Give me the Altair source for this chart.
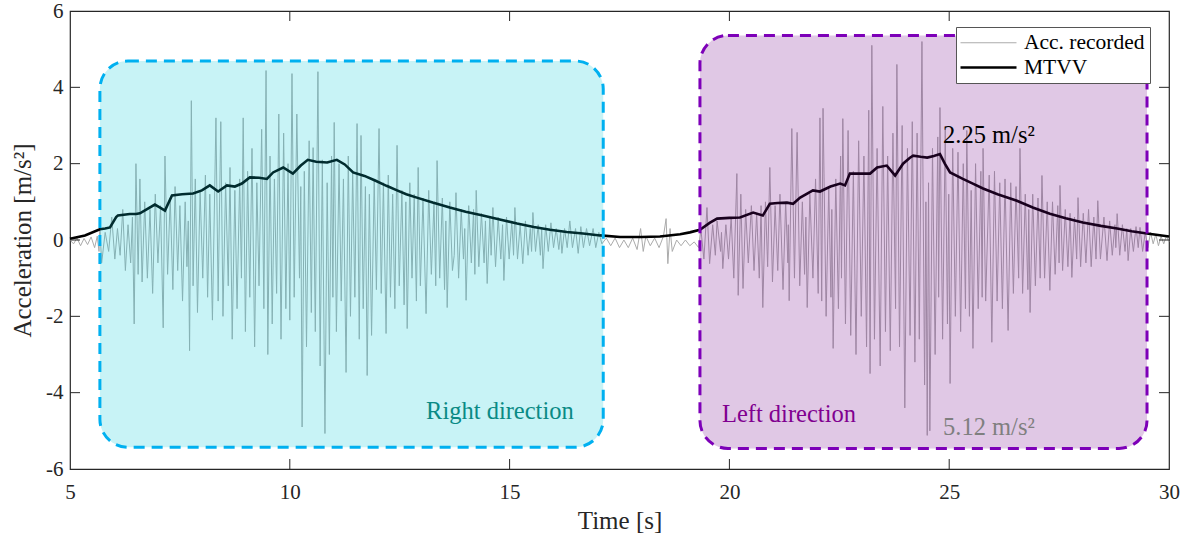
import altair as alt
import pandas as pd

# ---------------- data ----------------
acc_start = [(5.00, 0.00), (5.08, -0.10), (5.16, 0.05), (5.24, -0.15), (5.32, 0.04),
             (5.40, -0.12), (5.48, 0.08), (5.56, -0.20), (5.62, 0.10), (5.66, -0.30)]

acc_right = [(5.68, 0.3), (5.72, -0.6), (5.80, 0.2), (5.88, -0.3), (5.95, 0.6), (6.02, -0.5),
             (6.08, 0.3), (6.14, -0.4), (6.20, 0.8), (6.26, -0.8), (6.32, 0.4), (6.38, -0.6),
             (6.42, 0.6), (6.46, -2.2), (6.50, 2.0), (6.55, -0.9), (6.59, 1.6), (6.64, -1.1),
             (6.70, 1.0), (6.76, -1.0), (6.82, 0.8), (6.88, -1.4), (6.94, 1.2), (7.00, -0.6),
             (7.06, 0.9), (7.12, -2.3), (7.16, 2.2), (7.22, -0.9), (7.28, 1.1), (7.34, -1.3),
             (7.39, 1.4), (7.45, -0.8), (7.50, 0.9), (7.56, -1.6), (7.62, 1.0), (7.66, -0.7),
             (7.69, 0.5), (7.72, -2.9), (7.76, 3.65), (7.80, -1.2), (7.85, 1.6), (7.90, -1.9),
             (7.96, 1.3), (8.02, -1.0), (8.08, 1.7), (8.13, -1.5), (8.18, 1.2), (8.24, -2.1),
             (8.32, 3.2), (8.37, -1.6), (8.43, 3.1), (8.48, -2.0), (8.54, 1.5), (8.60, -1.2),
             (8.64, 1.9), (8.69, -2.6), (8.75, 1.3), (8.80, -1.8), (8.86, 1.6), (8.90, -1.0),
             (8.94, 3.2), (8.99, -2.4), (9.04, 1.8), (9.09, -1.5), (9.14, 2.4), (9.20, -2.8),
             (9.25, 1.5), (9.30, -1.2), (9.36, 2.9), (9.41, -1.8), (9.46, 4.44), (9.50, -3.0),
             (9.55, 2.2), (9.60, -2.2), (9.65, 1.6), (9.70, -1.4), (9.75, 3.3), (9.80, -2.6),
             (9.86, 2.8), (9.91, -1.8), (9.96, 2.0), (10.00, -2.1), (10.05, 4.36), (10.10, -1.5),
             (10.16, 3.3), (10.22, -1.0), (10.25, 1.4), (10.28, -4.9), (10.33, 1.8), (10.38, -2.8),
             (10.44, 2.6), (10.49, -1.9), (10.53, 2.42), (10.58, -2.4), (10.64, 4.41), (10.69, -3.3),
             (10.74, 2.1), (10.80, -5.07), (10.85, 1.5), (10.90, -3.0), (10.95, 2.2), (10.98, -1.5),
             (11.01, 3.08), (11.06, -2.4), (11.12, 2.0), (11.17, -1.6), (11.22, 1.6), (11.28, -3.47),
             (11.33, 2.2), (11.38, -2.0), (11.43, 1.8), (11.48, -1.5), (11.53, 3.05), (11.58, -2.6),
             (11.62, 2.74), (11.67, -1.8), (11.72, 1.4), (11.76, -3.55), (11.81, 1.2), (11.86, -2.5),
             (11.92, 1.6), (11.97, -1.3), (12.03, 2.92), (12.08, -1.4), (12.13, 1.5), (12.19, -2.45),
             (12.24, 1.7), (12.29, -1.5), (12.34, 1.2), (12.39, -1.8), (12.44, 2.48), (12.49, -1.2),
             (12.55, 1.3), (12.60, -1.7), (12.64, 1.0), (12.67, -2.32), (12.73, 1.5), (12.78, -1.0),
             (12.83, 1.2), (12.88, -1.6), (12.92, 1.9), (12.97, -1.2), (13.03, 1.1), (13.10, -1.93),
             (13.16, 1.3), (13.22, -0.9), (13.28, 1.0), (13.32, -1.2), (13.35, 2.08), (13.41, -1.0),
             (13.47, 1.1), (13.52, -1.3), (13.55, 0.5), (13.58, -1.77), (13.64, 1.0), (13.70, -0.8),
             (13.74, -0.4), (13.78, 1.24), (13.84, -1.0), (13.90, 0.8), (13.95, -0.5), (13.98, 0.3),
             (14.01, -1.58), (14.07, 0.9), (14.13, -0.6), (14.18, 0.8), (14.21, -0.9), (14.24, 1.3),
             (14.30, -0.7), (14.36, 0.7), (14.42, -0.6), (14.45, 0.5), (14.49, -1.14), (14.55, 0.6),
             (14.58, -0.4), (14.62, 0.85), (14.68, -0.7), (14.74, 0.6), (14.80, -0.5), (14.84, 0.4),
             (14.87, -1.06), (14.93, 0.6), (14.99, -0.5), (15.05, 0.5), (15.09, -0.4), (15.12, 0.85),
             (15.18, -0.5), (15.24, 0.4), (15.30, -0.62), (15.36, 0.5), (15.42, -0.4), (15.47, 0.3),
             (15.50, -0.3), (15.53, 0.72), (15.59, -0.3), (15.65, 0.4), (15.70, -0.4), (15.73, 0.3),
             (15.76, -0.75), (15.82, 0.4), (15.88, -0.3), (15.94, 0.45), (16.00, -0.2), (16.06, 0.3),
             (16.12, -0.25), (16.16, 0.2), (16.19, -0.35), (16.25, 0.3), (16.31, -0.2), (16.37, 0.5),
             (16.43, -0.2), (16.50, 0.3), (16.56, -0.35), (16.62, 0.35), (16.68, -0.2), (16.75, 0.3),
             (16.82, -0.15), (16.90, 0.3), (16.96, -0.2), (17.03, 0.2), (17.10, -0.1)]

acc_mid = [(17.20, 0.05), (17.30, -0.15), (17.40, 0.05), (17.50, -0.20), (17.60, 0.00),
           (17.70, -0.20), (17.80, 0.05), (17.90, -0.25), (17.98, 0.30), (18.04, -0.30),
           (18.10, 0.10), (18.20, -0.15), (18.30, 0.05), (18.40, -0.20), (18.50, 0.10),
           (18.56, 0.56), (18.60, -0.62), (18.65, 0.30), (18.70, -0.30), (18.80, 0.00),
           (18.90, -0.15), (19.00, 0.00), (19.10, -0.15), (19.20, -0.05), (19.30, -0.20)]

acc_left = [(19.35, 0.3), (19.42, -0.5), (19.49, 0.85), (19.55, -0.62), (19.62, 0.4), (19.68, -0.4),
            (19.72, 0.5), (19.80, -0.3), (19.82, 0.2), (19.85, -0.75), (19.92, 0.4), (19.98, -0.5),
            (20.04, 0.6), (20.10, -1.0), (20.17, 1.74), (20.20, -1.45), (20.26, 1.2), (20.31, -1.27),
            (20.37, 0.8), (20.43, -0.6), (20.50, 0.9), (20.56, -0.8), (20.62, 0.7), (20.68, -1.0),
            (20.72, 0.9), (20.76, -1.77), (20.82, 1.0), (20.87, -0.7), (20.92, 1.9), (20.98, -1.1),
            (21.04, 0.9), (21.10, -0.8), (21.15, 1.2), (21.22, -1.3), (21.28, 1.0), (21.33, -0.6),
            (21.34, 0.4), (21.36, -1.59), (21.42, 2.92), (21.48, -1.0), (21.54, 2.82), (21.60, -1.2),
            (21.66, 1.0), (21.71, -0.9), (21.74, 0.6), (21.77, -1.77), (21.83, 1.2), (21.90, -1.0),
            (21.96, 1.6), (22.02, -1.4), (22.06, 3.2), (22.10, -1.6), (22.13, 3.45), (22.20, -2.0),
            (22.26, 1.4), (22.31, -1.5), (22.33, 0.8), (22.36, -2.84), (22.42, 1.6), (22.48, -1.8),
            (22.53, 2.2), (22.55, -1.0), (22.58, 3.18), (22.64, -2.2), (22.70, 2.87), (22.76, -2.5),
            (22.82, 1.8), (22.88, -3.0), (22.94, 2.6), (23.00, -2.0), (23.06, 2.2), (23.12, -2.8),
            (23.17, 3.4), (23.20, -3.5), (23.24, 5.1), (23.30, -2.6), (23.36, 2.4), (23.43, -3.3),
            (23.49, 3.5), (23.55, -2.4), (23.60, 2.2), (23.66, -2.9), (23.72, 2.8), (23.78, -1.8),
            (23.81, 4.6), (23.87, -2.8), (23.93, 3.0), (23.99, -4.4), (24.05, 2.4), (24.11, -2.5),
            (24.16, 3.1), (24.22, -3.2), (24.27, 2.8), (24.32, -2.6), (24.38, 5.2), (24.44, -3.8),
            (24.47, 1.0), (24.50, -5.12), (24.53, 1.5), (24.56, -5.0), (24.62, 2.4), (24.68, -3.0),
            (24.74, 2.7), (24.76, -1.5), (24.79, 3.47), (24.85, -2.6), (24.91, 2.9), (24.96, -2.2),
            (24.99, 1.2), (25.02, -3.76), (25.08, 2.4), (25.14, -2.0), (25.20, 2.3), (25.26, -2.4),
            (25.32, 2.0), (25.37, -1.8), (25.40, 2.87), (25.46, -2.0), (25.50, 1.3), (25.54, -2.84),
            (25.60, 2.0), (25.66, -1.8), (25.72, 1.8), (25.75, -1.5), (25.77, 2.4), (25.83, -1.6),
            (25.91, 1.7), (25.97, -2.68), (26.03, 1.8), (26.09, -1.6), (26.15, 1.5), (26.21, -1.8),
            (26.27, 1.6), (26.34, -2.37), (26.40, 1.5), (26.46, -1.4), (26.52, 1.4), (26.58, -1.0),
            (26.61, 2.4), (26.67, -1.4), (26.73, 1.2), (26.79, -1.3), (26.81, 0.8), (26.84, -1.9),
            (26.90, 1.2), (26.96, -1.2), (27.02, 1.1), (27.07, -1.0), (27.11, 1.69), (27.17, -1.0),
            (27.23, 1.0), (27.29, -1.32), (27.35, 1.0), (27.41, -0.9), (27.47, 0.9), (27.50, -0.6),
            (27.52, 1.43), (27.58, -0.8), (27.64, 0.8), (27.70, -0.7), (27.75, 0.7), (27.79, -0.98),
            (27.85, 0.6), (27.90, -0.5), (27.93, 1.11), (27.99, -0.7), (28.05, 0.7), (28.11, -0.6),
            (28.17, 0.8), (28.23, -0.7), (28.29, 0.6), (28.34, -0.5), (28.38, 1.03), (28.44, -0.5),
            (28.52, 0.6), (28.59, -0.54), (28.65, 0.5), (28.71, -0.4), (28.77, 0.4), (28.79, -0.2),
            (28.82, 0.69), (28.88, -0.4), (28.94, 0.4), (29.00, -0.3), (29.04, 0.3), (29.07, -0.54),
            (29.13, 0.3), (29.19, -0.3), (29.25, 0.35), (29.30, -0.2), (29.34, 0.33), (29.40, -0.3),
            (29.46, 0.2), (29.52, -0.2), (29.58, 0.2), (29.64, -0.1), (29.70, 0.15), (29.76, -0.15),
            (29.82, 0.1), (29.88, -0.1), (29.94, 0.1), (30.00, -0.05)]

mtvv_time = [5.00, 5.34, 5.68, 5.80, 5.91, 6.05, 6.09, 6.36, 6.50, 6.59, 6.93, 7.05, 7.16, 7.32,
             7.55, 7.80, 8.00, 8.18, 8.37, 8.57, 8.75, 8.91, 9.09, 9.30, 9.48, 9.62, 9.85, 10.07,
             10.25, 10.41, 10.60, 10.85, 11.07, 11.25, 11.44, 11.70, 11.94, 12.20, 12.44, 12.65,
             12.89, 13.25, 13.64, 14.00, 14.39, 14.80, 15.17, 15.55, 15.92, 16.30, 16.67, 17.06,
             17.51, 18.00, 18.42, 18.88, 19.10, 19.33, 19.55, 19.72, 20.00, 20.24, 20.54, 20.76,
             20.92, 21.10, 21.31, 21.45, 21.61, 21.90, 22.06, 22.30, 22.52, 22.63, 22.74, 23.00,
             23.20, 23.36, 23.58, 23.77, 23.95, 24.10, 24.18, 24.35, 24.50, 24.65, 24.79, 24.90,
             25.02, 25.31, 25.55, 25.77, 26.10, 26.54, 26.90, 27.29, 27.65, 28.04, 28.45, 28.82,
             29.15, 29.50, 30.00]
mtvv_value = [0.03, 0.12, 0.28, 0.30, 0.33, 0.60, 0.64, 0.68, 0.68, 0.70, 0.93, 0.85, 0.77, 1.17,
              1.20, 1.22, 1.30, 1.43, 1.27, 1.43, 1.40, 1.48, 1.64, 1.63, 1.60, 1.77, 1.90, 1.74,
              1.95, 2.10, 2.05, 2.03, 2.10, 1.98, 1.77, 1.68, 1.56, 1.42, 1.30, 1.20, 1.11, 0.98,
              0.85, 0.74, 0.64, 0.53, 0.43, 0.34, 0.27, 0.21, 0.17, 0.12, 0.08, 0.08, 0.09, 0.15,
              0.20, 0.27, 0.45, 0.56, 0.58, 0.59, 0.72, 0.64, 0.95, 0.97, 0.98, 0.95, 1.11, 1.30,
              1.27, 1.40, 1.48, 1.43, 1.74, 1.74, 1.74, 1.90, 1.95, 1.69, 2.00, 2.15, 2.21, 2.18,
              2.16, 2.20, 2.25, 2.00, 1.77, 1.60, 1.47, 1.35, 1.20, 1.03, 0.85, 0.69, 0.57, 0.46,
              0.37, 0.30, 0.23, 0.17, 0.09]

series_names = ["Acc. recorded", "MTVV"]

region_x1 = [5.68, 19.33]
region_x2 = [17.13, 29.50]
region_y1 = [-5.43, -5.46]
region_y2 = [4.69, 5.36]
region_fill = ["#05c8d6", "#72058a"]
region_stroke = ["#00b0f0", "#7d00b8"]

notes_text = ["2.25 m/s²", "5.12 m/s²", "Right direction", "Left direction"]
notes_x = [24.86, 24.86, 13.10, 19.83]
notes_y = [2.55, -5.12, -4.70, -4.78]
notes_color = ["#000000", "#7f7f7f", "#0a8a85", "#800090"]

x_ticks = [10, 15, 20, 25]
y_ticks = [-4, -2, 0, 2, 4]

# ---------------- tables ----------------
acc_all = acc_start + acc_right + acc_mid + acc_left
lines = pd.concat([
    pd.DataFrame({"t": [p[0] for p in acc_all], "v": [p[1] for p in acc_all],
                  "series": series_names[0]}),
    pd.DataFrame({"t": mtvv_time, "v": mtvv_value, "series": series_names[1]}),
])
regions = pd.DataFrame({"x1": region_x1, "x2": region_x2, "y1": region_y1, "y2": region_y2,
                        "fill": region_fill, "stroke": region_stroke})
notes = pd.DataFrame({"text": notes_text, "x": notes_x, "y": notes_y, "color": notes_color})
xt = pd.DataFrame({"t": x_ticks})
yt = pd.DataFrame({"v": y_ticks})

FONT = "Liberation Serif, Tinos, Times New Roman, DejaVu Serif, serif"
W, H = 1099, 458
xs = alt.Scale(domain=[5, 30], nice=False, zero=False)
ys = alt.Scale(domain=[-6, 6], nice=False, zero=False)

x_axis = alt.Axis(values=[5, 10, 15, 20, 25, 30], title="Time [s]", ticks=False, grid=False,
                  domain=False, labelFont=FONT, labelFontSize=21, labelColor="#262626",
                  labelPadding=12, titleFont=FONT, titleFontSize=25, titleFontWeight="normal",
                  titleColor="#262626", titlePadding=6, labelFlush=False)
y_axis = alt.Axis(values=[-6, -4, -2, 0, 2, 4, 6], title="Acceleration [m/s²]", ticks=False,
                  grid=False, domain=False, labelFont=FONT, labelFontSize=21,
                  labelColor="#262626", labelPadding=7, labelExpr="datum.value + ''",
                  titleFont=FONT, titleFontSize=25, titleFontWeight="normal",
                  titleColor="#262626", titlePadding=10, labelFlush=False)

legend_kw = dict(title=None, orient="none", legendX=886, legendY=16, fillColor="white",
                 strokeColor="#555555", padding=5, labelFont=FONT, labelFontSize=21.5,
                 labelColor="#000000", symbolType="M-2.8,0H2.8", symbolSize=400,
                 symbolOffset=16, labelOffset=24, rowPadding=2)

line_layer = alt.Chart(lines).mark_line(interpolate="linear").encode(
    x=alt.X("t:Q", scale=xs, axis=x_axis),
    y=alt.Y("v:Q", scale=ys, axis=y_axis),
    color=alt.Color("series:N", scale=alt.Scale(domain=series_names, range=["#ababab", "#000000"]),
                    legend=alt.Legend(**legend_kw)),
    strokeWidth=alt.StrokeWidth("series:N", scale=alt.Scale(domain=series_names, range=[1, 2.6]),
                                legend=alt.Legend(**legend_kw)),
    order=alt.Order("t:Q"),
)

region_layer = alt.Chart(regions).mark_rect(
    cornerRadius=28, fillOpacity=0.22, strokeWidth=3, strokeDash=[11, 7], strokeOpacity=1
).encode(
    x=alt.X("x1:Q", scale=xs), x2="x2:Q",
    y=alt.Y("y1:Q", scale=ys), y2="y2:Q",
    fill=alt.Fill("fill:N", scale=None),
    stroke=alt.Stroke("stroke:N", scale=None),
)

note_layer = alt.Chart(notes).mark_text(
    font=FONT, fontSize=24.5, align="left", baseline="alphabetic"
).encode(
    x=alt.X("x:Q", scale=xs), y=alt.Y("y:Q", scale=ys),
    text="text:N", color=alt.Color("color:N", scale=None),
)

tick_color = "#262626"
xt_bottom = alt.Chart(xt).mark_rule(color=tick_color, strokeWidth=1).encode(
    x=alt.X("t:Q", scale=xs), y=alt.value(H), y2=alt.value(H - 10))
xt_top = alt.Chart(xt).mark_rule(color=tick_color, strokeWidth=1).encode(
    x=alt.X("t:Q", scale=xs), y=alt.value(0), y2=alt.value(10))
yt_left = alt.Chart(yt).mark_rule(color=tick_color, strokeWidth=1).encode(
    y=alt.Y("v:Q", scale=ys), x=alt.value(0), x2=alt.value(10))
yt_right = alt.Chart(yt).mark_rule(color=tick_color, strokeWidth=1).encode(
    y=alt.Y("v:Q", scale=ys), x=alt.value(W), x2=alt.value(W - 10))

chart = alt.layer(
    line_layer, region_layer, note_layer, xt_bottom, xt_top, yt_left, yt_right
).properties(
    width=W, height=H,
    autosize=alt.AutoSizeParams(type="none"),
    padding={"left": 70, "top": 11, "right": 24, "bottom": 69},
    background="white",
).configure(font=FONT).configure_view(stroke="#262626", strokeWidth=1.2)

chart.save("out.html", embed_options={"renderer": "svg", "actions": False})
